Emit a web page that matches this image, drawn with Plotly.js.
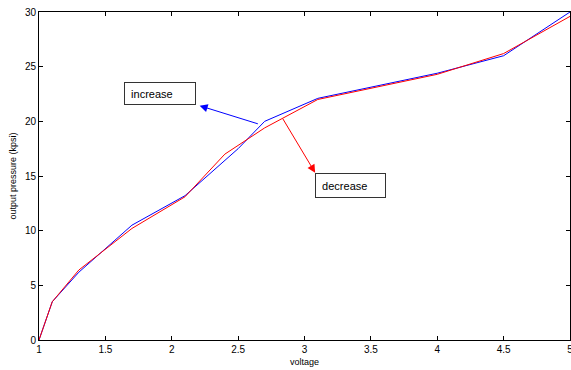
<!DOCTYPE html>
<html>
<head>
<meta charset="utf-8">
<script src="https://cdn.plot.ly/plotly-3.0.1.min.js"></script>
<style>html,body{margin:0;padding:0;background:#fff;}#chart{width:571px;height:370px;}</style>
</head>
<body>
<div id="chart"></div>
<script>
var voltageIncrease = [1, 1.1, 1.3, 1.7, 2.1, 2.5, 2.7, 3.1, 4, 4.5, 5];
var pressureIncrease = [0, 3.5, 6.2, 10.5, 13.2, 17.5, 20.0, 22.1, 24.4, 26.0, 30.0];
var voltageDecrease = [1, 1.1, 1.3, 1.7, 2.1, 2.4, 2.7, 3.1, 4, 4.5, 5];
var pressureDecrease = [0, 3.5, 6.4, 10.2, 13.1, 17.0, 19.4, 22.0, 24.3, 26.2, 29.6];
var xTicks = [1, 1.5, 2, 2.5, 3, 3.5, 4, 4.5, 5];
var yTicks = [0, 5, 10, 15, 20, 25, 30];

var traces = [
  {x: voltageIncrease, y: pressureIncrease, mode: 'lines', line: {color: '#0000ff', width: 1}, name: 'increase', hoverinfo: 'skip'},
  {x: voltageDecrease, y: pressureDecrease, mode: 'lines', line: {color: '#ff0000', width: 1}, name: 'decrease', hoverinfo: 'skip'}
];

var fontTick = {family: 'Liberation Sans, Arial, sans-serif', size: 10, color: '#000'};
var layout = {
  width: 571, height: 370,
  margin: {l: 39, r: 1, t: 12, b: 30},
  paper_bgcolor: '#fff', plot_bgcolor: '#fff',
  showlegend: false,
  font: fontTick,
  xaxis: {
    range: [1, 5], tickvals: xTicks, ticktext: xTicks.map(String),
    showgrid: false, zeroline: false, showline: true, linecolor: '#000', linewidth: 1,
    mirror: 'ticks', ticks: 'inside', ticklen: 4, tickcolor: '#000',
    tickfont: fontTick, ticklabeloverflow: 'allow',
    title: {text: 'voltage', font: {family: 'Liberation Sans, Arial, sans-serif', size: 9}, standoff: 4}
  },
  yaxis: {
    range: [0, 30], tickvals: yTicks, ticktext: yTicks.map(String),
    showgrid: false, zeroline: false, showline: true, linecolor: '#000', linewidth: 1,
    mirror: 'ticks', ticks: 'inside', ticklen: 4, tickcolor: '#000',
    tickfont: fontTick, ticklabeloverflow: 'allow',
    title: {text: 'output pressure (kpsi)', font: {family: 'Liberation Sans, Arial, sans-serif', size: 9}, standoff: 6}
  },
  annotations: [
    {x: 2.21, y: 21.43, xref: 'x', yref: 'y', ax: 2.66, ay: 19.73, axref: 'x', ayref: 'y',
     showarrow: true, arrowcolor: '#0000ff', arrowwidth: 1, arrowhead: 2, arrowsize: 1.6, text: ''},
    {x: 3.08, y: 15.3, xref: 'x', yref: 'y', ax: 2.83, ay: 20.37, axref: 'x', ayref: 'y',
     showarrow: true, arrowcolor: '#ff0000', arrowwidth: 1, arrowhead: 2, arrowsize: 1.6, text: ''},
    {x: 1.64, y: 22.57, xref: 'x', yref: 'y', xanchor: 'left', yanchor: 'middle', showarrow: false,
     text: '&nbsp;&nbsp;increase', font: {family: 'Liberation Sans, Arial, sans-serif', size: 11, color: '#000'},
     width: 70, height: 21, align: 'left', bordercolor: '#333', borderwidth: 1, borderpad: 0, bgcolor: '#fff'},
    {x: 3.08, y: 14.13, xref: 'x', yref: 'y', xanchor: 'left', yanchor: 'middle', showarrow: false,
     text: '&nbsp;&nbsp;decrease', font: {family: 'Liberation Sans, Arial, sans-serif', size: 11, color: '#000'},
     width: 69, height: 23, align: 'left', bordercolor: '#333', borderwidth: 1, borderpad: 0, bgcolor: '#fff'}
  ]
};

Plotly.newPlot('chart', traces, layout, {displayModeBar: false, staticPlot: true});
</script>
</body>
</html>
